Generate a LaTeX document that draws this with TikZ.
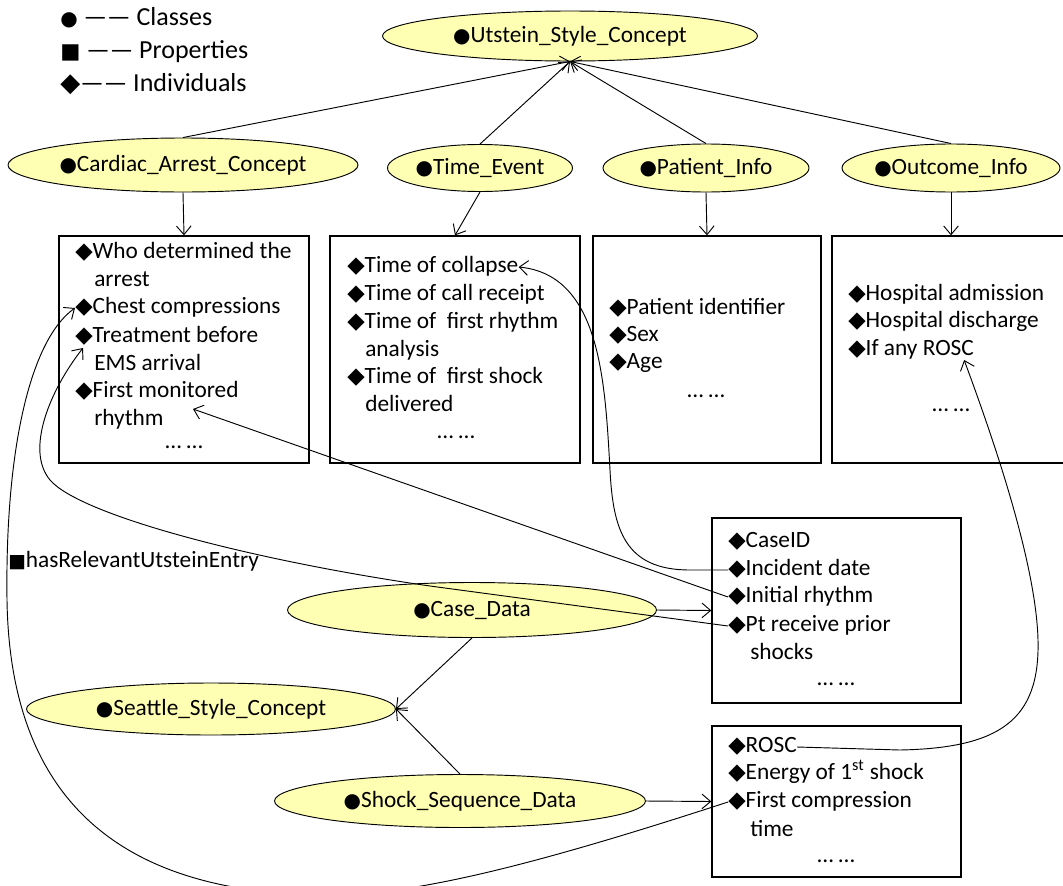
\documentclass[tikz,border=0pt]{standalone}
\usepackage{fontspec}
\setmainfont{Carlito}
\newfontfamily\sym{DejaVu Sans}
\usetikzlibrary{shapes.geometric,arrows.meta,calc}
\definecolor{ellfill}{RGB}{255,255,180}
\newcommand\dmd{{\sym\fontsize{17}{17}\selectfont ◆}}
\newcommand\blt{{\sym\fontsize{15}{15}\selectfont ●}}
\begin{document}
\begin{tikzpicture}[x=0.75pt,y=-0.75pt,
  ell/.style={ellipse, draw, fill=ellfill, inner sep=0pt, line width=0.7pt, font=\fontsize{17.5}{21}\selectfont},
  box/.style={draw, rectangle, inner sep=0pt, line width=1pt},
  it/.style={anchor=west, inner sep=0pt, font=\fontsize{17.5}{21}\selectfont, text height=12pt, text depth=4pt},
  dots/.style={it, anchor=center},
  leg/.style={anchor=west, inner sep=0pt, font=\fontsize{19.5}{23}\selectfont},
  arr/.style={-{Straight Barb[length=6.5pt,width=11pt]}, line width=0.7pt},
]
\useasboundingbox (0,0) rectangle (1063,885);
\clip (0,0) rectangle (1063,885);

% legend
\node[leg] (lc) at (60,18) {{\sym\fontsize{15}{15}\selectfont ●} —— Classes};
\node[leg] (lp) at (60,52) {{\sym\fontsize{16}{16}\selectfont ■} —— Properties};
\node[leg] (li) at (60,84) {{\sym ◆}—— Individuals};

% boxes
\node[box, minimum width=187.5pt, minimum height=170.25pt] (b1) at (184,349.5) {};
\node[box, minimum width=187.5pt, minimum height=170.25pt] (b2) at (455,349.5) {};
\node[box, minimum width=171pt, minimum height=170.25pt] (b3) at (707,349.5) {};
\node[box, minimum width=178.5pt, minimum height=170.25pt] (b4) at (951,349.5) {};
\node[box, minimum width=186.75pt, minimum height=138.75pt] (cdb) at (836.5,610.5) {};
\node[box, minimum width=186.75pt, minimum height=113.25pt] (rb) at (836.5,801.5) {};

% ellipses
\node[ell, minimum width=281.25pt, minimum height=37.5pt] (us) at (570,36) {\blt Utstein\_Style\_Concept};
\node[ell, minimum width=262.5pt, minimum height=40.5pt] (cac) at (183,165) {\blt Cardiac\_Arrest\_Concept};
\node[ell, minimum width=138.75pt, minimum height=35.25pt] (te) at (480,168) {\blt Time\_Event};
\node[ell, minimum width=154.5pt, minimum height=36pt] (pi) at (706,168) {\blt Patient\_Info};
\node[ell, minimum width=163.5pt, minimum height=36pt] (oi) at (951,168) {\blt Outcome\_Info};
\node[ell, minimum width=276.75pt, minimum height=41.25pt] (cd) at (472,610) {\blt Case\_Data};
\node[ell, minimum width=276.75pt, minimum height=39pt] (ssc) at (211,709) {\blt Seattle\_Style\_Concept};
\node[ell, minimum width=278.25pt, minimum height=39.75pt] (ssd) at (460,801) {\blt Shock\_Sequence\_Data};

% box 1
\node[it] (b1a) at (75,253) {\dmd Who determined the};
\node[it] (b1b) at (94,281) {arrest};
\node[it] (b1c) at (75,308) {\dmd Chest compressions};
\node[it] (b1d) at (75,337) {\dmd Treatment before};
\node[it] (b1e) at (94,365) {EMS arrival};
\node[it] (b1f) at (75,392) {\dmd First monitored};
\node[it] (b1g) at (94,420) {rhythm};
\node[dots] (b1h) at (184,443) {… …};
% box 2
\node[it] (b2a) at (347,267) {\dmd Time of collapse};
\node[it] (b2b) at (347,295) {\dmd Time of call receipt};
\node[it] (b2c) at (347,323) {\dmd Time of\ \ first rhythm};
\node[it] (b2d) at (365,351) {analysis};
\node[it] (b2e) at (347,378) {\dmd Time of\ \ first shock};
\node[it] (b2f) at (365,406) {delivered};
\node[dots] (b2g) at (456,433) {… …};
% box 3
\node[it] (b3a) at (609,309) {\dmd Patient identifier};
\node[it] (b3b) at (609,336) {\dmd Sex};
\node[it] (b3c) at (609,363) {\dmd Age};
\node[dots] (b3d) at (706,392) {… …};
% box 4
\node[it] (b4a) at (848,295) {\dmd Hospital admission};
\node[it] (b4b) at (848,322) {\dmd Hospital discharge};
\node[it] (b4c) at (848,350) {\dmd If any ROSC};
\node[dots] (b4d) at (951,406) {… …};
% case data box
\node[it] (c1) at (728,542) {\dmd CaseID};
\node[it] (c2) at (728,570) {\dmd Incident date};
\node[it] (c3) at (728,597) {\dmd Initial rhythm};
\node[it] (c4) at (728,626) {\dmd Pt receive prior};
\node[it] (c5) at (750,654) {shocks};
\node[dots] (c6) at (836,680) {… …};
% rosc box
\node[it] (r1) at (728,747) {\dmd ROSC};
\node[it] (r2) at (728,774) {\dmd Energy of 1\textsuperscript{st} shock};
\node[it] (r3) at (728,802) {\dmd First compression};
\node[it] (r4) at (750,831) {time};
\node[dots] (r5) at (836,857) {… …};

% property label
\node[it] (prop) at (8,562) {{\sym\fontsize{14}{14}\selectfont ■}hasRelevantUtsteinEntry};

\coordinate (fmr) at (193,409);

% hierarchy edges
\draw[arr] (cac.north) -- (us.south);
\draw[arr] (te.north) -- (us.south);
\draw[arr] (pi.north) -- (us.south);
\draw[arr] (oi.north) -- (us.south);
\draw[arr] (cac.south) -- (b1.north);
\draw[arr] (te.south) -- (b2.north);
\draw[arr] (pi.south) -- (b3.north);
\draw[arr] (oi.south) -- (b4.north);
\draw[arr] (cd.east) -- (cdb.west);
\draw[arr] (cd.south) -- (ssc.east);
\draw[arr] (ssd.north) -- (ssc.east);
\draw[arr] (ssd.east) -- (rb.west);

% relevant entry curves
\draw[arr] (c2.west) -- (690,570) .. controls (625,570) and (613,530) .. (610,470) .. controls (605,380) and (600,275) .. (b2a.east);
\draw[arr] (c3.west) -- (fmr);
\draw[arr] (c4.west) -- (430,586) .. controls (250,560) and (80,515) .. (50,480) .. controls (25,450) and (50,390) .. ($(b1d.west)+(8,11)$);
\draw[arr] (r3.west) .. controls (550,860) and (420,895) .. (330,895) .. controls (120,895) and (10,800) .. (7,600) .. controls (5,450) and (30,340) .. (b1c.west);
\draw[arr] (r1.east) -- (900,750) .. controls (1000,748) and (1040,720) .. (1038,640) .. controls (1036,560) and (990,430) .. ($(b4c.east)+(-10,10)$);
\end{tikzpicture}
\end{document}
